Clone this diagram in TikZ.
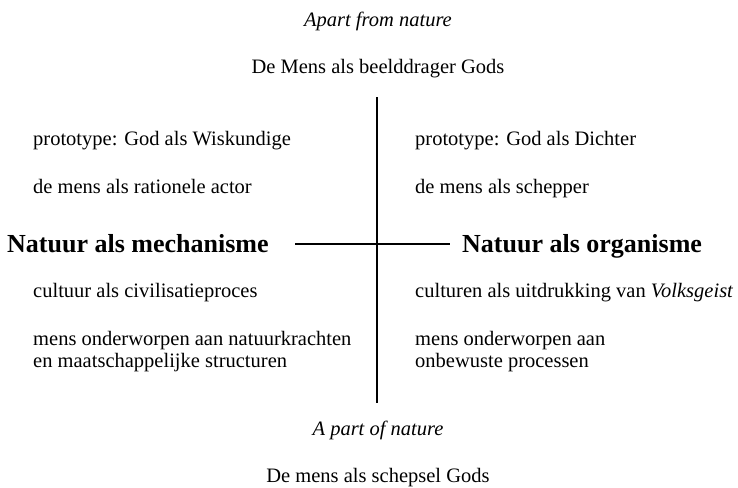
\documentclass[tikz,border=0pt]{standalone}
\usepackage{fontspec}
\setmainfont{Liberation Serif}
\begin{document}
\begin{tikzpicture}[x=1pt,y=1pt,
  txt/.style={inner sep=0pt,font=\fontsize{20.5}{24}\selectfont},
  lefttxt/.style={txt,anchor=base west},
  ctr/.style={txt,anchor=base},
  head/.style={inner sep=0pt,anchor=base west,font=\fontsize{26}{30}\selectfont\bfseries},
  axis/.style={line width=1.6pt}]
\useasboundingbox (0,0) rectangle (738,-487);
\node[ctr] (apart) at (378,-27) {\itshape Apart from nature};
\node[ctr] (beeld) at (378,-74) {De Mens als beelddrager Gods};
\node[lefttxt] (l1) at (33,-145) {prototype: God als Wiskundige};
\node[lefttxt] (l2) at (33,-193) {de mens als rationele actor};
\node[head] (mech) at (7,-252) {Natuur als mechanisme};
\node[lefttxt] (l3) at (33,-297) {cultuur als civilisatieproces};
\node[lefttxt] (l4a) at (33,-345) {mens onderworpen aan natuurkrachten};
\node[lefttxt] (l4b) at (33,-367) {en maatschappelijke structuren};
\node[lefttxt] (r1) at (415,-145) {prototype: God als Dichter};
\node[lefttxt] (r2) at (415,-193) {de mens als schepper};
\node[head] (org) at (462,-252) {Natuur als organisme};
\node[lefttxt] (r3) at (415,-297) {culturen als uitdrukking van \textit{Volksgeist}};
\node[lefttxt] (r4a) at (415,-345) {mens onderworpen aan};
\node[lefttxt] (r4b) at (415,-367) {onbewuste processen};
\node[ctr] (part) at (378,-435) {\itshape A part of nature};
\node[ctr] (schep) at (378,-482) {De mens als schepsel Gods};
\coordinate (vt) at (377,-97);
\coordinate (vb) at (377,-403);
\coordinate (hl) at (295,-244);
\coordinate (hr) at (450,-244);
\draw[axis] (vt) -- (vb);
\draw[axis] (hl) -- (hr);
\end{tikzpicture}
\end{document}
